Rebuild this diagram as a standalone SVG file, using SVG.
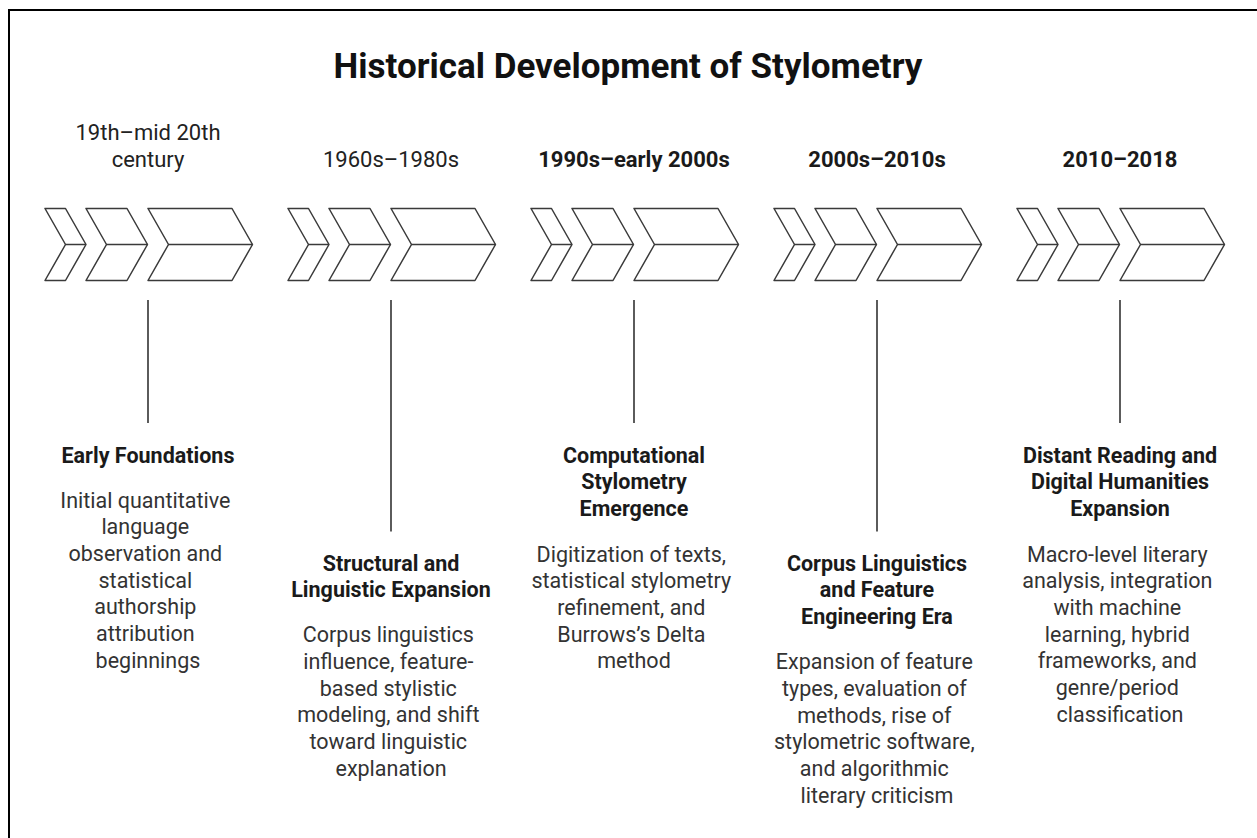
<svg xmlns="http://www.w3.org/2000/svg" xmlns:xlink="http://www.w3.org/1999/xlink" width="1257" height="838" viewBox="0 0 1257 838">
<style>
  .frame{fill:none;stroke:#000;stroke-width:2}
  .chev{fill:#fff;stroke:#3a3a3a;stroke-width:1.5;stroke-linejoin:round}
  .mid{stroke:#3a3a3a;stroke-width:1.5}
  .conn{stroke:#4a4a4a;stroke-width:1.8}
  text{font-family:Roboto,"Liberation Sans",sans-serif;text-anchor:middle}
  .title{font-size:35px;font-weight:700;fill:#111}
  .per{font-size:22px;fill:#222}
  .perb{font-size:22px;font-weight:700;fill:#1a1a1a}
  .head{font-size:21.5px;font-weight:700;fill:#1a1a1a}
  .body{font-size:21.5px;fill:#333}
</style>
<defs>
  <g id="chevs">
    <polygon class="chev" points="45,208.5 65.5,208.5 86,244.5 65.5,280.5 45,280.5 65.5,244.5"/>
    <line class="mid" x1="65.5" y1="244.5" x2="86" y2="244.5"/>
    <polygon class="chev" points="86,208.5 127,208.5 147.5,244.5 127,280.5 86,280.5 106.5,244.5"/>
    <line class="mid" x1="106.5" y1="244.5" x2="147.5" y2="244.5"/>
    <polygon class="chev" points="148,208.5 232,208.5 252.5,244.5 232,280.5 148,280.5 168.5,244.5"/>
    <line class="mid" x1="168.5" y1="244.5" x2="252.5" y2="244.5"/>
  </g>
</defs>
<rect width="1257" height="838" fill="#fff"/>
<rect class="frame" x="9" y="10" width="1260" height="840"/>
<text class="title" x="628" y="78">Historical Development of Stylometry</text>

<g id="connectors">
  <line class="conn" x1="148" y1="300" x2="148" y2="423"/>
  <line class="conn" x1="391" y1="300" x2="391" y2="531.5"/>
  <line class="conn" x1="634" y1="300" x2="634" y2="423"/>
  <line class="conn" x1="877" y1="300" x2="877" y2="531.5"/>
  <line class="conn" x1="1120" y1="300" x2="1120" y2="423"/>
</g>

<g id="stage1">
  <use xlink:href="#chevs" href="#chevs"/>
  <text class="per" x="148"><tspan x="148" y="140">19th–mid 20th</tspan><tspan x="148" y="166.7">century</tspan></text>
  <text class="head" x="148" y="462.7">Early Foundations</text>
  <text class="body" x="148">
    <tspan x="148" y="507.7">Initial quantitative</tspan>
    <tspan x="148" y="534.4">language</tspan>
    <tspan x="148" y="561">observation and</tspan>
    <tspan x="148" y="587.7">statistical</tspan>
    <tspan x="148" y="614.4">authorship</tspan>
    <tspan x="148" y="641">attribution</tspan>
    <tspan x="148" y="667.7">beginnings</tspan>
  </text>
</g>

<g id="stage2">
  <use xlink:href="#chevs" href="#chevs" transform="translate(243,0)"/>
  <text class="per" x="391" y="166.7">1960s–1980s</text>
  <text class="head" x="391"><tspan x="391" y="570.7">Structural and</tspan><tspan x="391" y="597.4">Linguistic Expansion</tspan></text>
  <text class="body" x="391">
    <tspan x="391" y="642.3">Corpus linguistics</tspan>
    <tspan x="391" y="669">influence, feature-</tspan>
    <tspan x="391" y="695.7">based stylistic</tspan>
    <tspan x="391" y="722.3">modeling, and shift</tspan>
    <tspan x="391" y="749">toward linguistic</tspan>
    <tspan x="391" y="775.7">explanation</tspan>
  </text>
</g>

<g id="stage3">
  <use xlink:href="#chevs" href="#chevs" transform="translate(486,0)"/>
  <text class="perb" x="634" y="166.7">1990s–early 2000s</text>
  <text class="head" x="634"><tspan x="634" y="462.7">Computational</tspan><tspan x="634" y="489.4">Stylometry</tspan><tspan x="634" y="516">Emergence</tspan></text>
  <text class="body" x="634">
    <tspan x="634" y="561.7">Digitization of texts,</tspan>
    <tspan x="634" y="588.4">statistical stylometry</tspan>
    <tspan x="634" y="615">refinement, and</tspan>
    <tspan x="634" y="641.7">Burrows’s Delta</tspan>
    <tspan x="634" y="668.4">method</tspan>
  </text>
</g>

<g id="stage4">
  <use xlink:href="#chevs" href="#chevs" transform="translate(729,0)"/>
  <text class="perb" x="877" y="166.7">2000s–2010s</text>
  <text class="head" x="877"><tspan x="877" y="570.7">Corpus Linguistics</tspan><tspan x="877" y="597.4">and Feature</tspan><tspan x="877" y="624">Engineering Era</tspan></text>
  <text class="body" x="877">
    <tspan x="877" y="669.3">Expansion of feature</tspan>
    <tspan x="877" y="696">types, evaluation of</tspan>
    <tspan x="877" y="722.7">methods, rise of</tspan>
    <tspan x="877" y="749.3">stylometric software,</tspan>
    <tspan x="877" y="776">and algorithmic</tspan>
    <tspan x="877" y="802.7">literary criticism</tspan>
  </text>
</g>

<g id="stage5">
  <use xlink:href="#chevs" href="#chevs" transform="translate(972,0)"/>
  <text class="perb" x="1120" y="166.7">2010–2018</text>
  <text class="head" x="1120"><tspan x="1120" y="462.7">Distant Reading and</tspan><tspan x="1120" y="489.4">Digital Humanities</tspan><tspan x="1120" y="516">Expansion</tspan></text>
  <text class="body" x="1120">
    <tspan x="1120" y="561.7">Macro-level literary</tspan>
    <tspan x="1120" y="588.4">analysis, integration</tspan>
    <tspan x="1120" y="615">with machine</tspan>
    <tspan x="1120" y="641.7">learning, hybrid</tspan>
    <tspan x="1120" y="668.4">frameworks, and</tspan>
    <tspan x="1120" y="695">genre/period</tspan>
    <tspan x="1120" y="721.7">classification</tspan>
  </text>
</g>
</svg>
